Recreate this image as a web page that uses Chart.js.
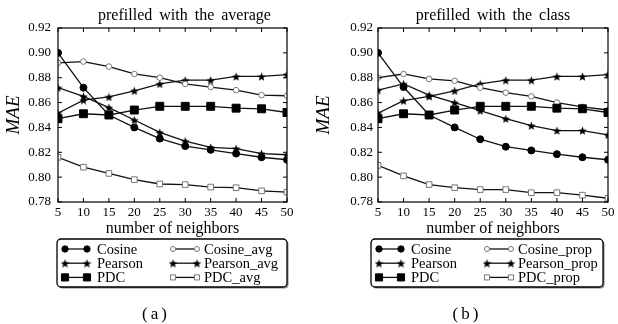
<!DOCTYPE html>
<html>
<head>
<meta charset="utf-8">
<script src="https://cdn.jsdelivr.net/npm/chart.js@4.4.0/dist/chart.umd.min.js"></script>
<style>
  body { margin: 0; background: #fff; font-family: "Liberation Serif", serif; }
  #page { position: relative; width: 618px; height: 324px; overflow: hidden; }
  .wrap { position: absolute; top: 0; height: 324px; }
  #wrapA { left: 0; width: 310px; }
  #wrapB { left: 310px; width: 308px; }
  .cap { position: absolute; top: 304px; font-size: 17px; letter-spacing: 3px; transform: translateX(-50%); }
</style>
</head>
<body>
<div id="page">
  <div class="wrap" id="wrapA"><canvas id="chartA" width="310" height="324"></canvas></div>
  <div class="wrap" id="wrapB"><canvas id="chartB" width="308" height="324"></canvas></div>
  <div class="cap" style="left:156px">(a)</div>
  <div class="cap" style="left:467px">(b)</div>
</div>
<script>
const neighbors = [5, 10, 15, 20, 25, 30, 35, 40, 45, 50];
const maeTicks = [0.78, 0.80, 0.82, 0.84, 0.86, 0.88, 0.90, 0.92];

// (a) prefilled with the average
const cosineA = [0.900, 0.872, 0.850, 0.840, 0.831, 0.825, 0.822, 0.819, 0.816, 0.814];
const pearsonA = [0.872, 0.865, 0.856, 0.846, 0.836, 0.829, 0.824, 0.823, 0.819, 0.818];
const pdcA = [0.847, 0.851, 0.850, 0.854, 0.857, 0.857, 0.857, 0.8555, 0.855, 0.852];
const cosineAvg = [0.892, 0.893, 0.889, 0.883, 0.880, 0.875, 0.8725, 0.870, 0.866, 0.8655];
const pearsonAvg = [0.8515, 0.862, 0.8645, 0.8695, 0.875, 0.878, 0.878, 0.881, 0.881, 0.8825];
const pdcAvg = [0.816, 0.808, 0.803, 0.798, 0.7945, 0.794, 0.792, 0.7915, 0.789, 0.788];

// (b) prefilled with the class
const cosineB = [0.900, 0.8725, 0.850, 0.840, 0.8305, 0.8245, 0.8215, 0.8185, 0.816, 0.814];
const pearsonB = [0.870, 0.875, 0.866, 0.860, 0.8535, 0.847, 0.8415, 0.8375, 0.8375, 0.834];
const pdcB = [0.847, 0.851, 0.850, 0.854, 0.857, 0.857, 0.857, 0.8555, 0.855, 0.852];
const cosineProp = [0.880, 0.883, 0.879, 0.8775, 0.872, 0.868, 0.865, 0.860, 0.8565, 0.854];
const pearsonProp = [0.8515, 0.8615, 0.865, 0.8695, 0.875, 0.878, 0.878, 0.881, 0.881, 0.8825];
const pdcProp = [0.8095, 0.801, 0.794, 0.7915, 0.790, 0.790, 0.7875, 0.7875, 0.7855, 0.783];

const FONT = '"Liberation Serif", serif';

function starImage(size) {
  const c = document.createElement("canvas");
  c.width = c.height = size;
  const g = c.getContext("2d");
  g.fillStyle = "#000";
  g.beginPath();
  for (let i = 0; i < 10; i++) {
    const r = i % 2 ? size * 0.22 : size * 0.5;
    const ang = -Math.PI / 2 + (i * Math.PI) / 5;
    g.lineTo(size / 2 + r * Math.cos(ang), size / 2 + 0.6 + r * Math.sin(ang));
  }
  g.closePath();
  g.fill();
  return c;
}
const star = starImage(9);

// marker look for each of the six series, in legend order
const styles = [
  { pointStyle: "circle", radius: 3.5, fill: "#000", stroke: "#000" },
  { pointStyle: star, radius: 4, fill: "#000", stroke: "#000" },
  { pointStyle: "rect", radius: 5.6, fill: "#000", stroke: "#000" },
  { pointStyle: "circle", radius: 2.8, fill: "#fff", stroke: "#777" },
  { pointStyle: star, radius: 4, fill: "#000", stroke: "#000" },
  { pointStyle: "rect", radius: 4, fill: "#fff", stroke: "#777" },
];

function makeDatasets(names, series) {
  return series.map((vals, i) => ({
    label: names[i],
    data: vals.map((v, k) => ({ x: neighbors[k], y: v })),
    borderColor: "#111",
    borderWidth: 1.3,
    pointStyle: styles[i].pointStyle,
    pointRadius: styles[i].radius,
    pointBackgroundColor: styles[i].fill,
    pointBorderColor: styles[i].stroke,
    pointBorderWidth: 1,
    tension: 0,
  }));
}

const frame = {
  id: "frame",
  afterDatasetsDraw(chart) {
    const { ctx, chartArea: a, scales } = chart;
    ctx.save();
    ctx.strokeStyle = "#000";
    ctx.lineWidth = 1.2;
    ctx.strokeRect(a.left, a.top, a.width, a.height);
    ctx.lineWidth = 1;
    ctx.beginPath();
    scales.x.ticks.forEach((t) => {
      const px = scales.x.getPixelForValue(t.value);
      ctx.moveTo(px, a.bottom); ctx.lineTo(px, a.bottom - 4);
      ctx.moveTo(px, a.top); ctx.lineTo(px, a.top + 4);
    });
    scales.y.ticks.forEach((t) => {
      const py = scales.y.getPixelForValue(t.value);
      ctx.moveTo(a.left, py); ctx.lineTo(a.left + 4, py);
      ctx.moveTo(a.right, py); ctx.lineTo(a.right - 4, py);
    });
    ctx.stroke();
    ctx.restore();
  },
  afterDraw(chart, args, opts) {
    const { ctx, chartArea: a } = chart;
    ctx.save();
    // title
    ctx.fillStyle = "#000";
    ctx.font = "16px " + FONT;
    ctx.textAlign = "center";
    ctx.textBaseline = "middle";
    ctx.wordSpacing = "3px";
    ctx.fillText(opts.title, (a.left + a.right) / 2 + opts.titleShift, 16);
    ctx.wordSpacing = "0px";

    // legend box, two columns
    const bx = a.left + opts.boxShift, by = a.bottom + 37, bw = opts.boxWidth, bh = 48;
    ctx.fillStyle = "#888";
    ctx.beginPath();
    ctx.roundRect(bx + 1.5, by + 1.5, bw, bh, 4);
    ctx.fill();
    ctx.fillStyle = "#fff";
    ctx.strokeStyle = "#000";
    ctx.lineWidth = 1.3;
    ctx.beginPath();
    ctx.roundRect(bx, by, bw, bh, 4);
    ctx.fill();
    ctx.stroke();

    ctx.font = "14.5px " + FONT;
    ctx.textAlign = "left";
    chart.data.datasets.forEach((ds, i) => {
      const col = Math.floor(i / 3), row = i % 3;
      const y = by + 10 + row * 14.2;
      const x0 = bx + (col ? 116 : 8), x1 = bx + (col ? 140 : 30);
      ctx.strokeStyle = "#111";
      ctx.lineWidth = 1.3;
      ctx.beginPath();
      ctx.moveTo(x0, y); ctx.lineTo(x1, y);
      ctx.stroke();
      ctx.fillStyle = ds.pointBackgroundColor;
      ctx.strokeStyle = ds.pointBorderColor;
      ctx.lineWidth = 1;
      [x0, x1].forEach((px) =>
        Chart.helpers.drawPoint(ctx, { pointStyle: ds.pointStyle, radius: ds.pointRadius * 0.9, rotation: 0, borderWidth: 1 }, px, y)
      );
      ctx.fillStyle = "#000";
      ctx.fillText(ds.label, bx + (col ? 147 : 40), y + 1);
    });
    ctx.restore();
  },
};

function buildChart(id, names, series, yWidth, padRight, plugOpts) {
  return new Chart(document.getElementById(id), {
    type: "line",
    data: { datasets: makeDatasets(names, series) },
    options: {
      responsive: false,
      animation: false,
      layout: { padding: { top: 28, right: padRight, bottom: 86, left: 0 } },
      plugins: { legend: { display: false }, tooltip: { enabled: false }, frame: plugOpts },
      scales: {
        x: {
          type: "linear",
          min: 5,
          max: 50,
          grid: { display: false, drawTicks: false },
          border: { display: false },
          afterBuildTicks: (s) => { s.ticks = neighbors.map((v) => ({ value: v })); },
          afterFit: (s) => { s.height = 36; },
          ticks: { color: "#000", padding: 3, maxRotation: 0, font: { family: FONT, size: 13 } },
          title: { display: true, text: "number of neighbors", color: "#000", padding: { top: 0, bottom: 0 }, font: { family: FONT, size: 16 } },
        },
        y: {
          min: 0.78,
          max: 0.92,
          grid: { display: false, drawTicks: false },
          border: { display: false },
          afterBuildTicks: (s) => { s.ticks = maeTicks.map((v) => ({ value: v })); },
          afterFit: (s) => { s.width = yWidth; },
          ticks: { color: "#000", padding: plugOpts.tickPad, font: { family: FONT, size: 13 }, callback: (v) => v.toFixed(2) },
          title: { display: true, text: "MAE", color: "#000", padding: { top: 3, bottom: 0 }, font: { family: FONT, size: 19, style: "italic" } },
        },
      },
    },
    plugins: [frame],
  });
}

buildChart("chartA",
  ["Cosine", "Pearson", "PDC", "Cosine_avg", "Pearson_avg", "PDC_avg"],
  [cosineA, pearsonA, pdcA, cosineAvg, pearsonAvg, pdcAvg],
  58, 23,
  { title: "prefilled with the average", titleShift: 12, boxShift: -1, boxWidth: 230, tickPad: 7 });

buildChart("chartB",
  ["Cosine", "Pearson", "PDC", "Cosine_prop", "Pearson_prop", "PDC_prop"],
  [cosineB, pearsonB, pdcB, cosineProp, pearsonProp, pdcProp],
  68, 10,
  { title: "prefilled with the class", titleShift: 0, boxShift: -7, boxWidth: 232, tickPad: 5 });
</script>
</body>
</html>
